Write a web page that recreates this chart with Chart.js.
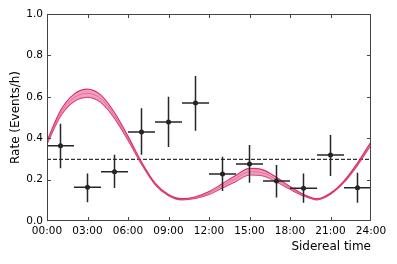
<!DOCTYPE html>
<html>
<head>
<meta charset="utf-8">
<script src="https://cdn.jsdelivr.net/npm/chart.js@4/dist/chart.umd.min.js"></script>
<style>
  html, body { margin: 0; padding: 0; background: #fff; }
  #wrap { width: 397px; height: 264px; }
</style>
</head>
<body>
<div id="wrap"><canvas id="rateChart" width="397" height="264"></canvas></div>
<script>
// Измеренные точки (центры бинов по звёздному времени, ч)
const binHours = [1, 3, 5, 7, 9, 11, 13, 15, 17, 19, 21, 23];
const binHalfWidth = 1;
const rate = [0.364, 0.163, 0.238, 0.430, 0.478, 0.570, 0.227, 0.275, 0.193, 0.158, 0.319, 0.161];
const rateHi = [0.470, 0.230, 0.320, 0.545, 0.600, 0.700, 0.310, 0.367, 0.270, 0.230, 0.415, 0.233];
const rateLo = [0.255, 0.090, 0.160, 0.320, 0.357, 0.436, 0.145, 0.185, 0.113, 0.088, 0.217, 0.088];

// Модельная кривая и её полоса неопределённости
const modelHours = [0, 1, 2, 3, 4, 5, 6, 7, 8, 9, 10, 11, 12, 13, 14, 15, 16, 17, 18, 19, 20, 21, 22, 23, 24];
const modelRate = [0.380, 0.520, 0.595, 0.617, 0.590, 0.510, 0.400, 0.280, 0.180, 0.125, 0.105, 0.113, 0.135, 0.170, 0.206, 0.238, 0.232, 0.200, 0.160, 0.125, 0.105, 0.132, 0.190, 0.275, 0.375];
const modelHi = [0.388, 0.534, 0.613, 0.637, 0.608, 0.524, 0.410, 0.286, 0.184, 0.128, 0.108, 0.117, 0.142, 0.181, 0.221, 0.254, 0.247, 0.211, 0.167, 0.129, 0.108, 0.135, 0.194, 0.281, 0.383];
const modelLo = [0.372, 0.506, 0.577, 0.597, 0.572, 0.496, 0.390, 0.274, 0.176, 0.122, 0.102, 0.109, 0.128, 0.159, 0.191, 0.222, 0.217, 0.189, 0.153, 0.121, 0.102, 0.129, 0.186, 0.269, 0.367];

// Средний уровень (пунктир)
const meanRate = 0.298;

const xTickStep = 3;
const yTickStep = 0.2;

const font = 'DejaVu Sans';

// Отрезки погрешностей, разделённые null
const xErrSegments = [];
const yErrSegments = [];
binHours.forEach((h, i) => {
    xErrSegments.push({x: h - binHalfWidth, y: rate[i]}, {x: h + binHalfWidth, y: rate[i]}, {x: h, y: null});
    yErrSegments.push({x: h, y: rateLo[i]}, {x: h, y: rateHi[i]}, {x: h, y: null});
});

const toPoints = (xs, ys) => xs.map((x, i) => ({x: x, y: ys[i]}));

// Рамка и внутренние засечки как в matplotlib
const frameTicks = {
    id: 'frameTicks',
    afterDraw(chart) {
        const {ctx, chartArea: a, scales: {x, y}} = chart;
        const len = 4;
        ctx.save();
        ctx.strokeStyle = '#444';
        ctx.lineWidth = 1;
        ctx.beginPath();
        x.ticks.forEach(t => {
            const px = Math.round(x.getPixelForValue(t.value)) + 0.5;
            if (px <= a.left + 1 || px >= a.right - 1) return;
            ctx.moveTo(px, a.bottom); ctx.lineTo(px, a.bottom - len);
            ctx.moveTo(px, a.top); ctx.lineTo(px, a.top + len);
        });
        y.ticks.forEach(t => {
            const py = Math.round(y.getPixelForValue(t.value)) + 0.5;
            if (py <= a.top + 1 || py >= a.bottom - 1) return;
            ctx.moveTo(a.left, py); ctx.lineTo(a.left + len, py);
            ctx.moveTo(a.right, py); ctx.lineTo(a.right - len, py);
        });
        ctx.stroke();
        ctx.strokeRect(a.left + 0.5, a.top + 0.5, a.width - 1, a.height - 1);
        ctx.restore();
    }
};

const ctx = document.getElementById('rateChart').getContext('2d');

const rateChart = new Chart(ctx, {
    type: 'scatter',
    data: {
        datasets: [
            {
                label: 'x err',
                data: xErrSegments,
                showLine: true,
                spanGaps: false,
                borderColor: '#262626',
                borderWidth: 1.5,
                pointRadius: 0
            },
            {
                label: 'y err',
                data: yErrSegments,
                showLine: true,
                spanGaps: false,
                borderColor: '#262626',
                borderWidth: 1.5,
                pointRadius: 0
            },
            {
                label: 'Rate',
                data: toPoints(binHours, rate),
                backgroundColor: '#1e1e1e',
                borderColor: '#1e1e1e',
                pointRadius: 2.5,
                borderWidth: 0
            },
            {
                label: 'model',
                data: toPoints(modelHours, modelRate),
                showLine: true,
                borderColor: 'rgba(214, 26, 94, 0.35)',
                borderWidth: 1,
                pointRadius: 0,
                cubicInterpolationMode: 'monotone'
            },
            {
                label: 'model hi',
                data: toPoints(modelHours, modelHi),
                showLine: true,
                borderColor: 'rgba(212, 22, 90, 0.85)',
                borderWidth: 1.1,
                pointRadius: 0,
                cubicInterpolationMode: 'monotone',
                fill: '+1',
                backgroundColor: 'rgba(228, 95, 150, 0.6)'
            },
            {
                label: 'model lo',
                data: toPoints(modelHours, modelLo),
                showLine: true,
                borderColor: 'rgba(212, 22, 90, 0.85)',
                borderWidth: 1.1,
                pointRadius: 0,
                cubicInterpolationMode: 'monotone'
            },
            {
                label: 'mean',
                data: [{x: 0, y: meanRate}, {x: 24, y: meanRate}],
                showLine: true,
                borderColor: '#000',
                borderWidth: 1,
                borderDash: [4, 2],
                pointRadius: 0
            }
        ]
    },
    options: {
        responsive: false,
        animation: false,
        layout: {
            padding: {top: 14, right: 26, left: 0, bottom: 0}
        },
        plugins: {
            legend: {display: false},
            tooltip: {enabled: false}
        },
        scales: {
            x: {
                type: 'linear',
                min: 0,
                max: 24,
                afterFit: scale => { scale.height = 43; },
                afterBuildTicks: scale => {
                    const t = [];
                    for (let v = 0; v <= 24; v += xTickStep) t.push({value: v});
                    scale.ticks = t;
                },
                grid: {display: false, drawTicks: false},
                border: {display: false},
                ticks: {
                    autoSkip: false,
                    maxRotation: 0,
                    padding: 4,
                    color: '#000',
                    font: {family: font, size: 10.5},
                    callback: v => String(v).padStart(2, '0') + ':00'
                },
                title: {
                    display: true,
                    text: 'Sidereal time',
                    align: 'end',
                    color: '#000',
                    padding: {top: 0, bottom: 10},
                    font: {family: font, size: 12}
                }
            },
            y: {
                min: 0,
                max: 1,
                afterFit: scale => { scale.width = 47; },
                grid: {display: false, drawTicks: false},
                border: {display: false},
                ticks: {
                    stepSize: yTickStep,
                    padding: 4,
                    color: '#000',
                    font: {family: font, size: 10.5},
                    callback: v => v.toFixed(1)
                },
                title: {
                    display: true,
                    text: 'Rate (Events/h)',
                    color: '#000',
                    padding: {top: 9, bottom: 0},
                    font: {family: font, size: 12}
                }
            }
        }
    },
    plugins: [frameTicks]
});
</script>
</body>
</html>
